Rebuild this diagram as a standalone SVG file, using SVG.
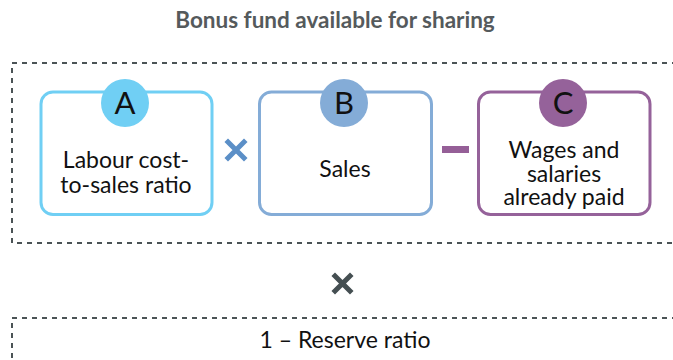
<svg xmlns="http://www.w3.org/2000/svg" width="673" height="360" viewBox="0 0 673 360">
  <style>
    .frame { fill: none; stroke: #4b5356; stroke-width: 2; stroke-dasharray: 5 5; }
    .box { fill: #ffffff; stroke-width: 3; }
    .lbl { font-family: Lato, "Liberation Sans", sans-serif; font-size: 23px; fill: #111111; text-anchor: middle; }
    .letter { font-family: Lato, "Liberation Sans", sans-serif; font-size: 31px; fill: #111111; text-anchor: middle; }
    .title { font-family: Lato, "Liberation Sans", sans-serif; font-size: 22.5px; font-weight: bold; fill: #555a5c; text-anchor: middle; }
  </style>

  <text class="title" x="335" y="28">Bonus fund available for sharing</text>

  <!-- dashed frames -->
  <rect class="frame" x="12" y="63" width="700" height="180"/>
  <rect class="frame" x="12" y="318" width="700" height="80"/>

  <g id="nodeA">
    <rect class="box" x="41" y="92" width="171" height="122.5" rx="12" stroke="#70cff4"/>
    <circle cx="125" cy="103" r="24" fill="#70cff4"/>
    <text class="letter" x="125" y="114">A</text>
    <text class="lbl" x="126" y="168">Labour cost-</text>
    <text class="lbl" x="126" y="193">to-sales ratio</text>
  </g>

  <g id="nodeB">
    <rect class="box" x="259.5" y="92" width="172" height="122.5" rx="12" stroke="#84acd7"/>
    <circle cx="344" cy="103" r="24" fill="#84acd7"/>
    <text class="letter" x="344" y="114">B</text>
    <text class="lbl" x="345" y="177">Sales</text>
  </g>

  <g id="nodeC">
    <rect class="box" x="478.5" y="92" width="171.5" height="122.5" rx="12" stroke="#95629a"/>
    <circle cx="563" cy="103" r="24" fill="#95629a"/>
    <text class="letter" x="563" y="114">C</text>
    <text class="lbl" x="564" y="158">Wages and</text>
    <text class="lbl" x="564" y="182">salaries</text>
    <text class="lbl" x="564" y="205">already paid</text>
  </g>

  <g id="operators">
    <path d="M228 142 L244 158 M244 142 L228 158" stroke="#5b8fc7" stroke-width="5" stroke-linecap="square"/>
    <rect x="442" y="146" width="27" height="7" fill="#955f97"/>
    <path d="M335 276 L350 291 M350 276 L335 291" stroke="#454f52" stroke-width="5" stroke-linecap="square"/>
  </g>

  <g id="nodeReserve">
    <text class="lbl" x="345" y="348">1 – Reserve ratio</text>
  </g>
</svg>
